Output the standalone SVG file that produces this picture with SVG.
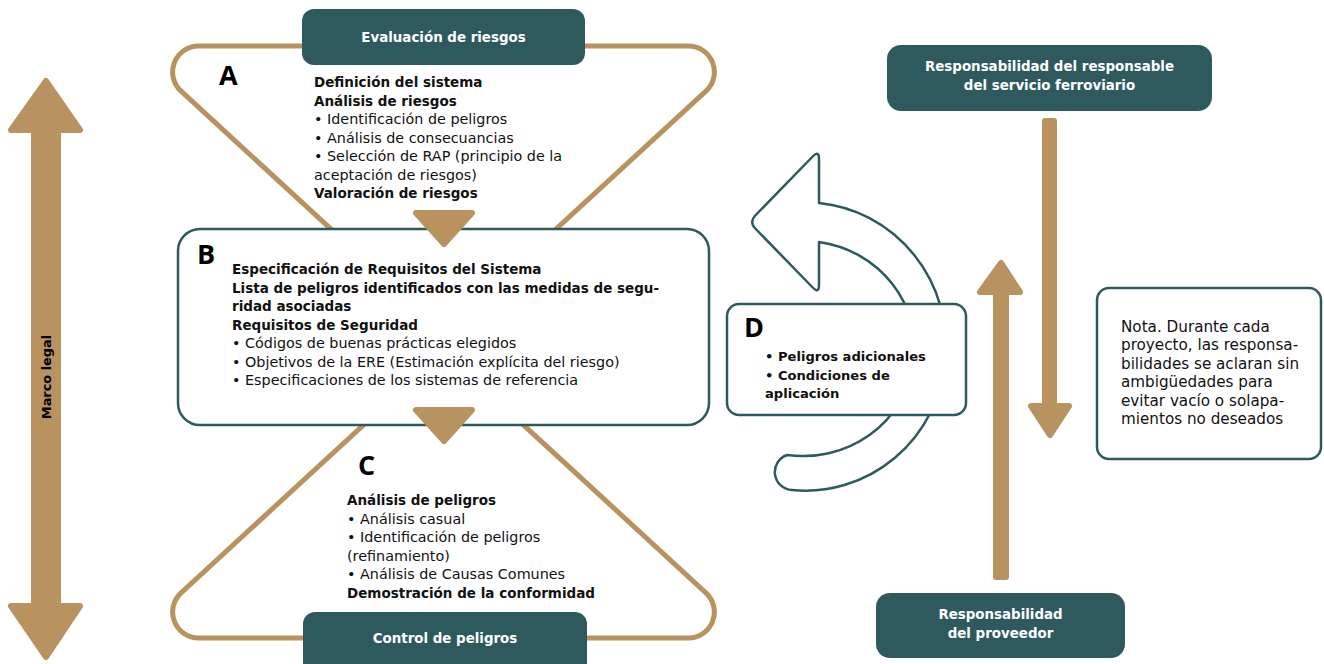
<svg xmlns="http://www.w3.org/2000/svg" width="1324" height="664" viewBox="0 0 1324 664">
<style>
.gold{fill:#b8935f;stroke:#b8935f;stroke-width:6;stroke-linejoin:round}
.loop{fill:none;stroke:#b8935f;stroke-width:5}
.teal{fill:#2f5a5d}
.card{fill:#fff;stroke:#2f5a5d;stroke-width:2.5}
.hd{font-family:"DejaVu Sans","Open Sans",sans-serif;font-size:13.4px;font-weight:700;fill:#fff;text-anchor:middle}
.t{font-family:"DejaVu Sans","Open Sans",sans-serif;font-size:14.35px;fill:#111}
.b{font-weight:700;font-size:13.5px}
.db{font-size:13.1px}
.n{font-size:15.2px}
.L{font-family:"Open Sans","Liberation Sans",sans-serif;font-size:27px;font-weight:700;fill:#000}
</style>
<rect width="1324" height="664" fill="#fff"/>
<g id="marco-legal">
<polygon class="gold" points="46,81 80,130 58,130 58,606 80,606 46,657 11,606 34,606 34,130 11,130"/>
<text transform="translate(51,377) rotate(-90)" font-family="DejaVu Sans, Open Sans, sans-serif" font-size="12.9" font-weight="700" fill="#000" text-anchor="middle">Marco legal</text>
</g>
<g id="connectors">
<path class="loop" d="M443.5,332.6 L181.1,91.2 A26,26 0 0 1 198.7,46 L688.3,46 A26,26 0 0 1 705.9,91.2 Z"/>
<path class="loop" d="M443.5,351.4 L181.1,592.8 A26,26 0 0 0 198.7,638 L688.3,638 A26,26 0 0 0 705.9,592.8 Z"/>
</g>
<g id="evaluacion">
<rect class="teal" x="302" y="9" width="283" height="56" rx="12"/>
<text class="hd" x="443.5" y="42">Evaluación de riesgos</text>
</g>
<g id="control">
<rect class="teal" x="303" y="612" width="284" height="62" rx="12"/>
<text class="hd" x="445" y="643">Control de peligros</text>
</g>
<g id="A">
<text class="L" x="219" y="85">A</text>
<text class="t" x="314" y="87"><tspan class="b">Definición del sistema</tspan><tspan class="b" x="314" dy="18.5">Análisis de riesgos</tspan><tspan x="314" dy="18.5">• Identificación de peligros</tspan><tspan x="314" dy="18.5">• Análisis de consecuancias</tspan><tspan x="314" dy="18.5">• Selección de RAP (principio de la</tspan><tspan x="314" dy="18.5">aceptación de riesgos)</tspan><tspan class="b" x="314" dy="18.5">Valoración de riesgos</tspan></text>
</g>
<g id="B">
<rect class="card" x="178" y="229" width="531" height="196" rx="22"/>
<text class="L" x="197" y="264">B</text>
<text class="t" x="232" y="274"><tspan class="b">Especificación de Requisitos del Sistema</tspan><tspan class="b" x="232" dy="18.5">Lista de peligros identificados con las medidas de segu-</tspan><tspan class="b" x="232" dy="18.5">ridad asociadas</tspan><tspan class="b" x="232" dy="18.5">Requisitos de Seguridad</tspan><tspan x="232" dy="18.5">• Códigos de buenas prácticas elegidos</tspan><tspan x="232" dy="18.5">• Objetivos de la ERE (Estimación explícita del riesgo)</tspan><tspan x="232" dy="18.5">• Especificaciones de los sistemas de referencia</tspan></text>
</g>
<g id="flow-arrows">
<polygon class="gold" points="416,213 472,213 444,244"/>
<polygon class="gold" points="416,410 472,410 444,441"/>
</g>
<g id="C">
<text class="L" x="358" y="475">C</text>
<text class="t" x="347" y="505"><tspan class="b">Análisis de peligros</tspan><tspan x="347" dy="18.5">• Análisis casual</tspan><tspan x="347" dy="18.5">• Identificación de peligros</tspan><tspan x="347" dy="18.5">(refinamiento)</tspan><tspan x="347" dy="18.5">• Análisis de Causas Comunes</tspan><tspan class="b" x="347" dy="18.5">Demostración de la conformidad</tspan></text>
</g>
<g id="D">
<path fill="#fff" stroke="#2f5a5d" stroke-width="2.5" stroke-linejoin="round" d="M819,203 A140,143.5 0 0 1 792,490 A18,18 0 0 1 787,455 A110,106 0 0 0 819,242 L819,285 Q819,294 812.7,287.5 L755.3,228.5 Q749,222 755.3,215.5 L812.7,156.5 Q819,150 819,159 Z"/>
<rect class="card" x="727" y="304" width="239" height="111" rx="12"/>
<text class="L" x="744" y="337">D</text>
<text class="t b db" x="765" y="361"><tspan>• Peligros adicionales</tspan><tspan x="765" dy="18.5">• Condiciones de</tspan><tspan x="765" dy="18.5">aplicación</tspan></text>
</g>
<g id="resp-ferroviario">
<rect class="teal" x="887" y="45" width="325" height="66" rx="14"/>
<text class="hd" x="1049.5" y="71">Responsabilidad del responsable</text>
<text class="hd" x="1049.5" y="90">del servicio ferroviario</text>
</g>
<g id="resp-flow">
<path class="gold" d="M1045,121 L1054,121 L1054,406 L1069,406 L1050,435 L1031,406 L1045,406 Z"/>
<path class="gold" d="M996,577 L1006,577 L1006,292 L1020,292 L1001,263 L980,292 L996,292 Z"/>
</g>
<g id="resp-proveedor">
<rect class="teal" x="876" y="593" width="249" height="65" rx="14"/>
<text class="hd" x="1000.5" y="619">Responsabilidad</text>
<text class="hd" x="1000.5" y="638">del proveedor</text>
</g>
<g id="nota">
<rect class="card" x="1097" y="288" width="224" height="171" rx="12"/>
<text class="t n" x="1121" y="332"><tspan>Nota. Durante cada</tspan><tspan x="1121" dy="18.4">proyecto, las responsa-</tspan><tspan x="1121" dy="18.4">bilidades se aclaran sin</tspan><tspan x="1121" dy="18.4">ambigüedades para</tspan><tspan x="1121" dy="18.4">evitar vacío o solapa-</tspan><tspan x="1121" dy="18.4">mientos no deseados</tspan></text>
</g>
</svg>
